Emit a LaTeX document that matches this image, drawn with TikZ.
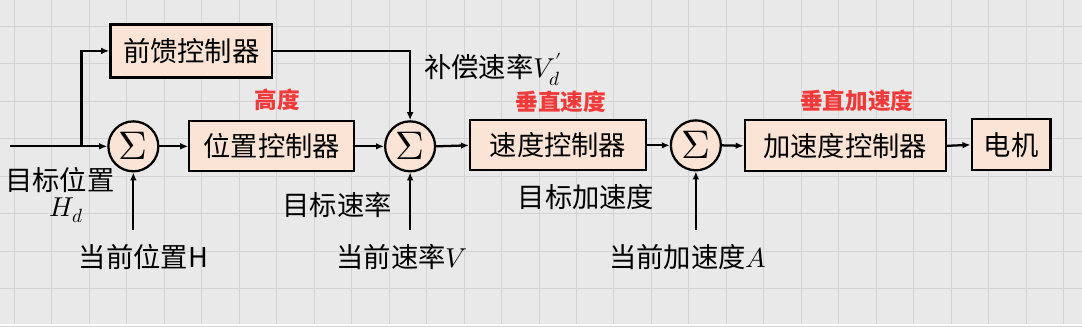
\documentclass[tikz,border=0pt]{standalone}
\usepackage{fontspec}
\usepackage{unicode-math}
\setmathfont{Latin Modern Math}
\setmainfont{Noto Sans CJK SC}
\usetikzlibrary{arrows.meta}
\definecolor{bg}{HTML}{E9E9E9}
\definecolor{gridc}{HTML}{D3D3D3}
\definecolor{peach}{HTML}{FBE4D6}
\definecolor{redlab}{HTML}{F23A3A}
\tikzset{
  blk/.style={draw=black, line width=1.7pt, fill=peach, inner sep=0pt, font=\fontsize{20.5}{23}\selectfont},
  sumc/.style={draw=black, line width=1.7pt, fill=peach, circle, minimum size={50*0.75pt}, inner sep=0pt, font=\fontsize{30}{32}\selectfont},
  lab/.style={inner sep=0pt, font=\fontsize{20.5}{23}\selectfont},
  redl/.style={inner sep=0pt, text=redlab, font=\fontsize{17}{20}\selectfont\bfseries},
  conn/.style={line width=1.7pt, -{Latex[length=6pt,width=5pt]}},
  wire/.style={line width=1.7pt}
}
\begin{document}
\begin{tikzpicture}[x=0.75pt, y=-0.75pt]
\fill[bg] (0,0) rectangle (1082,324);
\foreach \i in {0,...,28} {\draw[gridc, line width=0.7pt] ({14+37.5*\i},0) -- ({14+37.5*\i},324);}
\foreach \j in {0,...,8} {\draw[gridc, line width=0.7pt] (0,{26+37.5*\j}) -- (1082,{26+37.5*\j});}
\useasboundingbox (0,0) rectangle (1082,324);

% nodes
\node[sumc] (s1) at (133,146) {$\Sigma$};
\node[blk, minimum width={162*0.75pt}, minimum height={53*0.75pt}] (ff) at (191,50.5) {前馈控制器};
\node[blk, minimum width={165*0.75pt}, minimum height={50*0.75pt}] (pos) at (271.5,146) {位置控制器};
\node[sumc] (s2) at (410,146) {$\Sigma$};
\node[blk, minimum width={176*0.75pt}, minimum height={50*0.75pt}] (vel) at (558,145) {速度控制器};
\node[sumc] (s3) at (696,145) {$\Sigma$};
\node[blk, minimum width={201*0.75pt}, minimum height={51*0.75pt}] (acc) at (845.5,145.5) {加速度控制器};
\node[blk, minimum width={79*0.75pt}, minimum height={51*0.75pt}] (mot) at (1011.5,144.5) {电机};

% labels
\node[lab] (l1) at (59.5,180) {目标位置};
\node[lab] (l2) at (66,210) {$H_d$};
\node[lab] (l3) at (143,257) {当前位置H};
\node[redl] (r1) at (277,99) {高度};
\node[lab, anchor=west] (l4) at (424,69) {补偿速率$V'_d$};
\node[lab] (l5) at (337,205) {目标速率};
\node[lab] (l6) at (402,257) {当前速率$V$};
\node[redl] (r2) at (561,101) {垂直速度};
\node[lab] (l7) at (586,197) {目标加速度};
\node[lab] (l8) at (688,257) {当前加速度$A$};
\node[redl] (r3) at (857,100) {垂直加速度};

% coordinates
\coordinate (in) at (10,146);
\coordinate (br) at (81,146);
\coordinate (b1) at (133,230);
\coordinate (b2) at (410,230);
\coordinate (b3) at (696,230);

% connectors
\draw[wire] (in) -- (br);
\draw[conn] (br) -- (s1.west);
\draw[conn] (br) |- (ff.west);
\draw[conn] (ff.east) -| (s2.north);
\draw[conn] (s1.east) -- (pos.west);
\draw[conn] (pos.east) -- (s2.west);
\draw[conn] (s2.east) -- (vel.west);
\draw[conn] (vel.east) -- (s3.west);
\draw[conn] (s3.east) -- (acc.west);
\draw[conn] (acc.east) -- (mot.west);
\draw[conn] (b1) -- (s1.south);
\draw[conn] (b2) -- (s2.south);
\draw[conn] (b3) -- (s3.south);
\end{tikzpicture}
\end{document}
